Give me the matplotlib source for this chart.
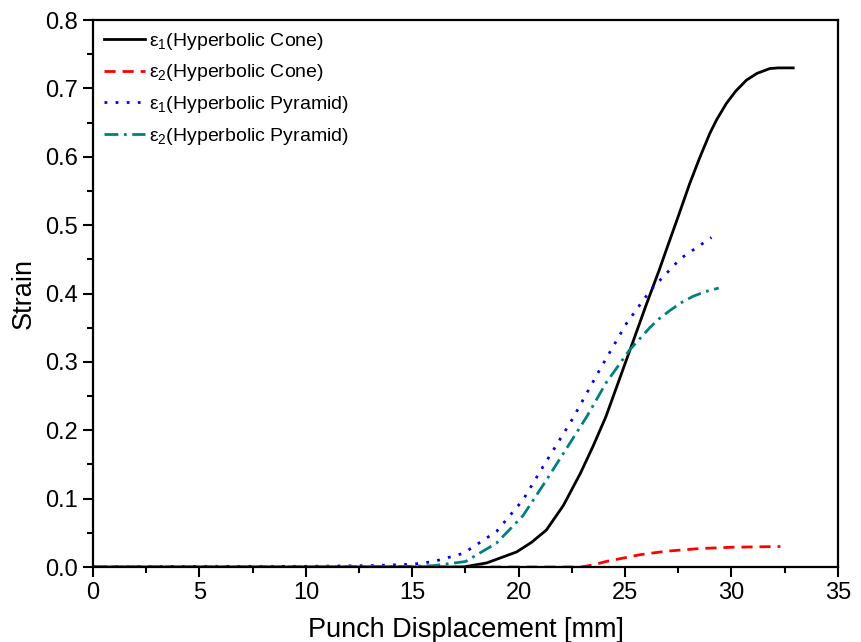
import matplotlib
matplotlib.use('Agg')
import matplotlib.pyplot as plt
from matplotlib.ticker import MultipleLocator

plt.rcParams['font.family'] = ['Liberation Sans', 'DejaVu Sans']
plt.rcParams['mathtext.fontset'] = 'custom'
plt.rcParams['mathtext.rm'] = 'Liberation Sans'
plt.rcParams['mathtext.it'] = 'Liberation Sans'

# e1, hyperbolic cone
x_c1 = [0, 5, 10, 15, 17.4, 18.5, 19.9, 20.6, 21.3, 22.1, 22.9, 23.5, 24.1, 24.75, 25.4,
        26.0, 26.6, 26.94, 27.5, 28.04, 28.5, 28.98, 29.3, 29.76, 30.2, 30.7, 31.2, 31.8,
        32.2, 32.9]
y_c1 = [0, 0, 0, 0, 0.0, 0.006, 0.022, 0.036, 0.054, 0.090, 0.137, 0.177, 0.22, 0.276, 0.332,
        0.384, 0.434, 0.464, 0.513, 0.561, 0.598, 0.634, 0.654, 0.678, 0.696, 0.712, 0.722,
        0.729, 0.730, 0.730]

# e2, hyperbolic cone
x_c2 = [0, 5, 10, 15, 20, 22.9, 23.5, 24.1, 24.9, 25.7, 26.9, 28.5, 30.1, 32.3]
y_c2 = [0, 0, 0, 0, 0, 0, 0.003, 0.008, 0.013, 0.018, 0.023, 0.027, 0.029, 0.030]

# e1, hyperbolic pyramid
x_p1 = [0, 5, 10, 13, 15, 16, 17.4, 18.96, 20.2, 21.15, 22.5, 23.8, 25.06, 26.2, 27.6, 29.06]
y_p1 = [0, 0.001, 0.001, 0.002, 0.004, 0.008, 0.02, 0.052, 0.098, 0.147, 0.215, 0.288,
        0.356, 0.405, 0.451, 0.482]

# e2, hyperbolic pyramid
x_p2 = [0, 5, 10, 15, 16, 17.5, 18.96, 20.2, 21.3, 22.2, 23.2, 24.1, 25.2, 26.16, 26.6,
        27.1, 27.6, 28.2, 28.8, 29.4]
y_p2 = [0, 0, 0, 0.001, 0.002, 0.008, 0.035, 0.075, 0.127, 0.171, 0.22, 0.269, 0.317,
        0.350, 0.363, 0.375, 0.386, 0.396, 0.403, 0.408]

labels = [r'ε$_1$(Hyperbolic Cone)', r'ε$_2$(Hyperbolic Cone)',
          r'ε$_1$(Hyperbolic Pyramid)', r'ε$_2$(Hyperbolic Pyramid)']

fig = plt.figure(figsize=(8.62, 6.42), dpi=100)
ax = fig.add_axes([0.108, 0.1168, 0.864, 0.852])

ax.plot(x_c1, y_c1, color='black', lw=2, label=labels[0])
ax.plot(x_c2, y_c2, color='#ff0000', lw=2, dashes=(4, 2.5), label=labels[1])
ax.plot(x_p1, y_p1, color='#0000ff', lw=2, dashes=(1, 3), label=labels[2])
ax.plot(x_p2, y_p2, color='#008080', lw=2, dashes=(5, 2, 1, 2), label=labels[3])

ax.set_xlim(0, 35)
ax.set_ylim(0, 0.8)
ax.xaxis.set_major_locator(MultipleLocator(5))
ax.xaxis.set_minor_locator(MultipleLocator(2.5))
ax.yaxis.set_major_locator(MultipleLocator(0.1))
ax.yaxis.set_minor_locator(MultipleLocator(0.05))
ax.yaxis.set_major_formatter(plt.FormatStrFormatter('%.1f'))

ax.tick_params(which='both', direction='out', top=False, right=False, labelsize=17)
ax.tick_params(which='major', length=7, width=1.5, pad=4)
ax.tick_params(which='minor', length=4, width=1.5)
for s in ax.spines.values():
    s.set_linewidth(1.6)

ax.set_xlabel('Punch Displacement [mm]', fontsize=19.5, labelpad=9)
ax.set_ylabel('Strain', fontsize=19.5, labelpad=6)

ax.legend(loc='upper left', frameon=False, fontsize=14, handlelength=2.1,
          handletextpad=0.25, labelspacing=0.55, borderaxespad=0.15)

fig.savefig('out.png', dpi=100)
